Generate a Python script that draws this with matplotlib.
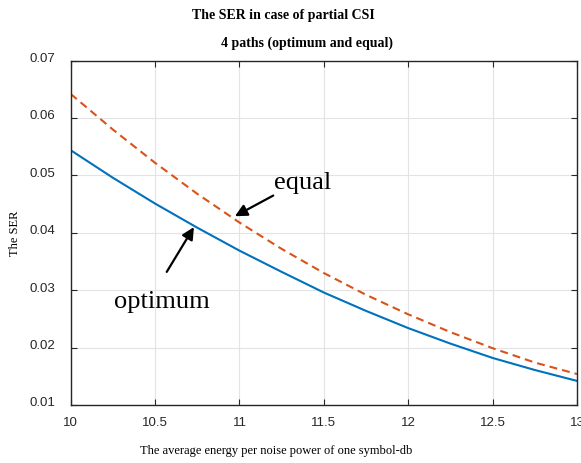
import matplotlib
matplotlib.use("Agg")
import matplotlib.pyplot as plt
import matplotlib.transforms as mtransforms

# SNR axis (dB) and SER values
snr_db = [10, 10.25, 10.5, 10.75, 11, 11.25, 11.5, 11.75, 12, 12.25, 12.5, 12.75, 13]
ser_optimum = [0.0544, 0.0496, 0.0451, 0.0409, 0.0369, 0.0332, 0.0296,
               0.0264, 0.0234, 0.0207, 0.0182, 0.0161, 0.0142]
ser_equal = [0.0642, 0.0580, 0.0522, 0.0468, 0.0418, 0.0372, 0.0330,
             0.0292, 0.0258, 0.0227, 0.0199, 0.0174, 0.0154]

xticks = [10, 10.5, 11, 11.5, 12, 12.5, 13]
yticks = [0.01, 0.02, 0.03, 0.04, 0.05, 0.06, 0.07]

tick_font = ['Liberation Sans', 'DejaVu Sans']
serif = ['Liberation Serif', 'DejaVu Serif']

fig = plt.figure(figsize=(5.81, 4.64), dpi=100)
ax = fig.add_axes([0.1217, 0.125, 0.8714, 0.742])

ax.plot(snr_db, ser_optimum, color='#0072BD', lw=1.5)
ax.plot(snr_db, ser_equal, color='#D95319', lw=1.5, linestyle=(0, (3.8, 2.4)))

ax.set_xlim(10, 13)
ax.set_ylim(0.01, 0.07)
ax.set_xticks(xticks)
ax.set_xticklabels(['10', '10.5', '11', '11.5', '12', '12.5', '13'],
                   family=tick_font, fontsize=9.5, color='#262626')
ax.set_yticks(yticks)
ax.set_yticklabels(['0.01', '0.02', '0.03', '0.04', '0.05', '0.06', '0.07'],
                   family=tick_font, fontsize=9.5, color='#262626')

ax.grid(True, color='#e3e3e3', lw=0.8)
ax.tick_params(direction='in', length=4, width=0.8, top=True, right=True,
               color='#262626')
ax.tick_params(axis='x', pad=8)
ax.tick_params(axis='y', pad=11)
for s in ax.spines.values():
    s.set_color('#262626')
    s.set_linewidth(1.0)

# y labels sit a little above their ticks in the original
off = mtransforms.ScaledTranslation(0, 3 / 72, fig.dpi_scale_trans)
for lab in ax.get_yticklabels():
    lab.set_transform(lab.get_transform() + off)

# titles and axis labels
fig.text(283 / 581, 1 - 15 / 464, 'The SER in case of partial CSI', family=serif,
         fontweight='bold', fontsize=10, ha='center', va='center')
fig.text(307 / 581, 1 - 43 / 464, '4 paths (optimum and equal)', family=serif,
         fontweight='bold', fontsize=10, ha='center', va='center')
fig.text(276 / 581, 1 - 451 / 464, 'The average energy per noise power of one symbol-db',
         family=serif, fontsize=9, ha='center', va='center')
fig.text(15 / 581, 1 - 233 / 464, 'The SER', family=serif, fontsize=9,
         rotation=90, ha='center', va='center')

# annotations
arrow = dict(arrowstyle='-|>', lw=1.6, color='k', mutation_scale=18, shrinkA=0, shrinkB=0)
ax.annotate('', xy=(10.973, 0.0429), xytext=(11.200, 0.0465), arrowprops=arrow)
ax.annotate('', xy=(10.730, 0.0410), xytext=(10.569, 0.0332), arrowprops=arrow)
ax.text(11.376, 0.0479, 'equal', family=serif, fontsize=19, ha='center', va='baseline')
ax.text(10.538, 0.0271, 'optimum', family=serif, fontsize=19, ha='center', va='baseline')

fig.savefig('out.png', dpi=100)
